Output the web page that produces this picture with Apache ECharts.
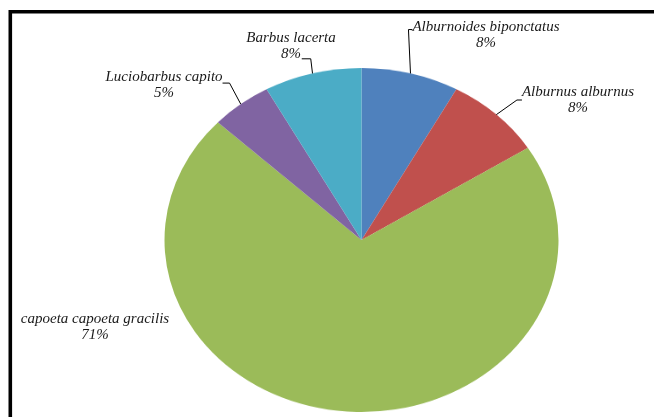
<!DOCTYPE html>
<html>
<head>
<meta charset="utf-8">
<script src="https://cdn.jsdelivr.net/npm/echarts@6/dist/echarts.min.js"></script>
<style>
html, body { margin: 0; padding: 0; background: #fff; }
#wrap { position: relative; width: 654px; height: 417px; overflow: hidden; }
#pie { position: absolute; left: 0; top: 0; width: 654px; height: 480px; }
#labels { position: absolute; left: 0; top: 0; width: 654px; height: 417px; }
/* Excel drew the pie slightly squashed, so the disc layer is scaled vertically */
#pie { transform: scaleY(0.873); transform-origin: 361.5px 240px; }
</style>
</head>
<body>
<div id="wrap">
    <div id="pie"></div>
    <div id="labels"></div>
</div>
<script>
// clockwise from 12 o'clock
const species = ['Alburnoides biponctatus', 'Alburnus alburnus', 'capoeta capoeta gracilis', 'Luciobarbus capito', 'Barbus lacerta'];
const shares = [8, 8, 71, 5, 8];
const colors = ['#4F81BD', '#C0504D', '#9BBB59', '#8064A2', '#4BACC6'];

const center = [361.5, 240];
const radius = 197;
const squash = 0.873;

// where each label block sits and where its leader line meets it
// (fx, fy = fraction of the label block, from its centre / top)
const labelPos = [[486, 35], [578, 100], [95, 327], [164, 85], [291, 46]];
const hasLine = [true, true, false, true, true];
const lineFx = [-0.5, -0.5, 0, 0.5, 0.12];
const lineFy = [0.33, 0.5, 0, 0.44, 0.9];
const bendDx = [-4, -5, 0, 7, 9];

const pieData = species.map((name, i) => ({ name: name, value: shares[i] }));

const pieChart = echarts.init(document.getElementById('pie'));
pieChart.setOption({
    animation: false,
    color: colors,
    series: [{
        type: 'pie',
        silent: true,
        center: center,
        radius: radius,
        startAngle: 90,
        clockwise: true,
        label: { show: false },
        labelLine: { show: false },
        itemStyle: { borderWidth: 0 },
        data: pieData
    }]
});

const labelChart = echarts.init(document.getElementById('labels'));
labelChart.setOption({
    animation: false,
    graphic: [{
        type: 'polyline',
        shape: { points: [[10.3, 417], [10.3, 11.7], [654, 11.7]] },
        style: { stroke: '#000', lineWidth: 3.6, fill: null }
    }],
    series: [{
        type: 'pie',
        silent: true,
        center: center,
        radius: radius,
        startAngle: 90,
        clockwise: true,
        itemStyle: { color: 'rgba(0,0,0,0)', borderWidth: 0 },
        label: {
            show: true,
            position: 'outside',
            formatter: '{b}\n{d}%',
            fontFamily: 'Liberation Serif',
            fontStyle: 'italic',
            fontSize: 15,
            lineHeight: 16,
            color: '#1a1a1a',
            align: 'center',
            overflow: 'none'
        },
        labelLine: {
            show: true,
            lineStyle: { color: '#000', width: 1 }
        },
        labelLayout: function (params) {
            const i = params.dataIndex;
            const pos = labelPos[i];
            const w = params.labelRect.width;
            const h = params.labelRect.height;
            const out = { x: pos[0], y: pos[1], align: 'center', verticalAlign: 'middle' };
            const pts = params.labelLinePoints;
            if (hasLine[i] && pts) {
                const anchor = [pts[0][0], center[1] + (pts[0][1] - center[1]) * squash];
                const ex = pos[0] + w * lineFx[i];
                const ey = pos[1] - h / 2 + h * lineFy[i];
                out.labelLinePoints = [anchor, [ex + bendDx[i], ey], [ex, ey]];
            }
            return out;
        },
        data: pieData.map((d, i) => hasLine[i] ? d : Object.assign({}, d, { labelLine: { show: false } }))
    }]
});
</script>
</body>
</html>
